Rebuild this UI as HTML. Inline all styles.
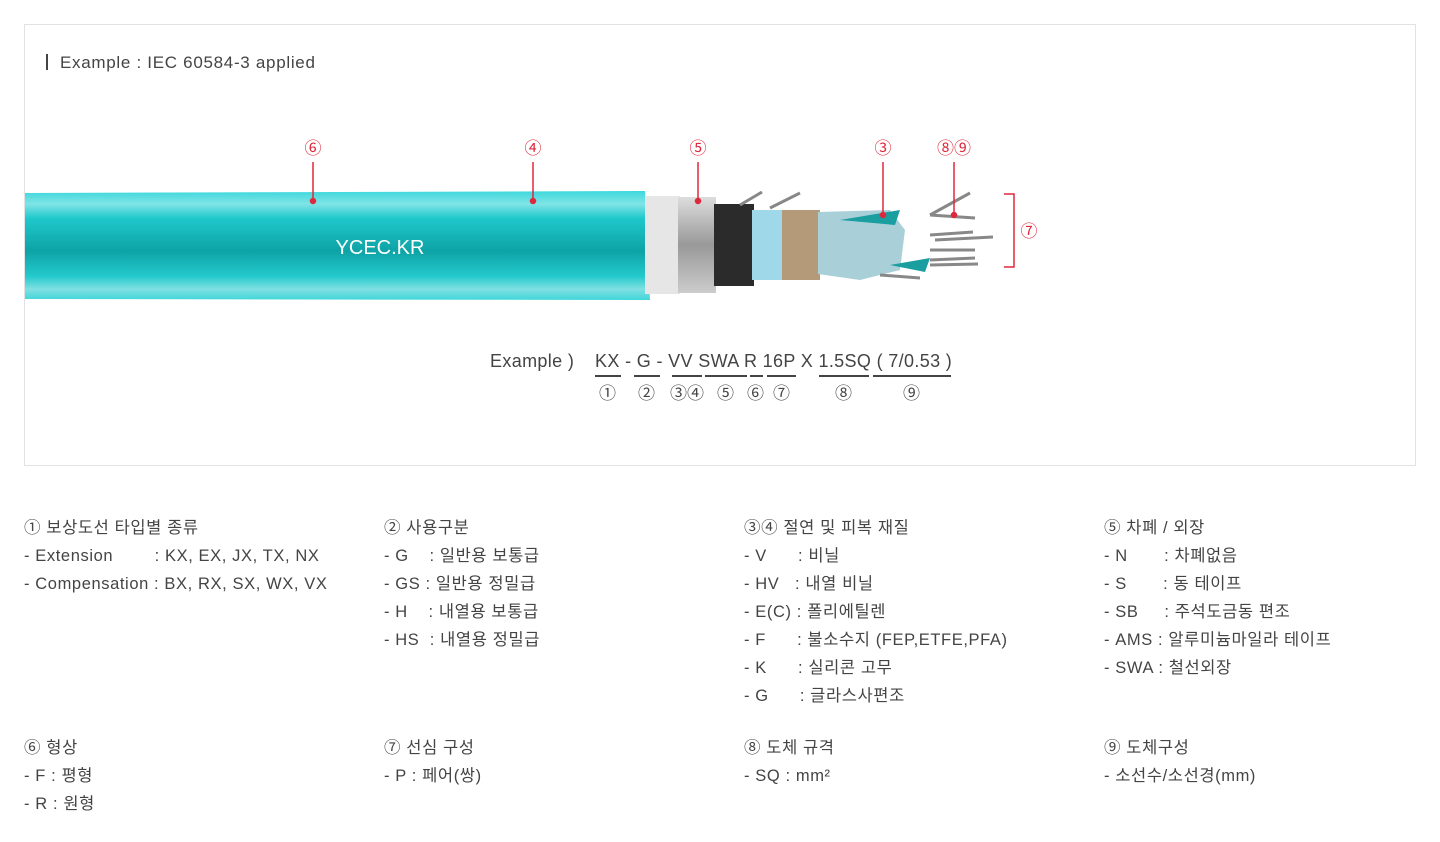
<!DOCTYPE html>
<html><head><meta charset="utf-8"><style>
body{margin:0;width:1440px;height:842px;background:#fff;font-family:"Liberation Sans","Noto Sans CJK KR",sans-serif;color:#444;position:relative;overflow:hidden}
.box{position:absolute;left:24px;top:24px;width:1390px;height:440px;border:1px solid #e2e2e2}
.t{position:absolute;white-space:nowrap}
.ex{font-size:18px;color:#444;letter-spacing:0.35px}
.u{position:absolute;height:2px;background:#444;top:375px}
.c{font-size:17px;font-family:"Noto Sans CJK KR",sans-serif;line-height:20px}
.leg{position:absolute;font-size:16.5px;line-height:28px;color:#444;white-space:pre;letter-spacing:0.6px}
</style></head><body>
<div class="box"></div>
<div class="t" style="left:46px;top:53px;font-size:17px;color:#444;letter-spacing:0.7px"><span style="display:inline-block;width:2px;height:16px;background:#444;vertical-align:-2px;margin-right:12px"></span>Example : IEC 60584-3 applied</div>

<svg style="position:absolute;left:0;top:0" width="1440" height="470">
<defs>
<linearGradient id="tg" x1="0" y1="0" x2="0" y2="1">
<stop offset="0" stop-color="#3dd8dc"/><stop offset="0.12" stop-color="#80e4e6"/><stop offset="0.25" stop-color="#1fc8cb"/><stop offset="0.55" stop-color="#0ea3a6"/><stop offset="0.78" stop-color="#23c9cc"/><stop offset="0.9" stop-color="#80e0e2"/><stop offset="1" stop-color="#40d6da"/>
</linearGradient>
<linearGradient id="sg" x1="0" y1="0" x2="0" y2="1"><stop offset="0" stop-color="#ddd"/><stop offset="0.5" stop-color="#999"/><stop offset="1" stop-color="#ccc"/></linearGradient>
</defs>
<polygon points="25,193 645,191 650,300 25,299" fill="url(#tg)"/>
<rect x="645" y="196" width="35" height="98" fill="#e6e6e6"/>
<rect x="678" y="197" width="38" height="96" fill="url(#sg)"/>
<rect x="714" y="204" width="40" height="82" fill="#2b2b2b"/>
<rect x="752" y="210" width="32" height="70" fill="#9fd8e8"/>
<rect x="782" y="210" width="38" height="70" fill="#b59a7a"/>
<polygon points="818,212 890,210 905,230 900,270 860,280 818,274" fill="#a9cfd8"/>
<path d="M840 220 L900 210 L895 225 Z M890 265 L930 258 L925 272 Z" fill="#1a9ea0"/>
<g stroke="#888" stroke-width="3">
<line x1="740" y1="205" x2="762" y2="192"/><line x1="770" y1="208" x2="800" y2="193"/>
<line x1="930" y1="215" x2="970" y2="193"/><line x1="930" y1="215" x2="975" y2="218"/>
<line x1="930" y1="235" x2="973" y2="232"/><line x1="935" y1="240" x2="993" y2="237"/>
<line x1="930" y1="250" x2="975" y2="250"/><line x1="930" y1="260" x2="975" y2="258"/>
<line x1="930" y1="265" x2="978" y2="264"/><line x1="880" y1="275" x2="920" y2="278"/>
</g>
<g stroke="#e0283c" stroke-width="1.5" fill="#e0283c">
<line x1="313" y1="162" x2="313" y2="201"/><circle cx="313" cy="201" r="2.5"/>
<line x1="533" y1="162" x2="533" y2="201"/><circle cx="533" cy="201" r="2.5"/>
<line x1="698" y1="162" x2="698" y2="201"/><circle cx="698" cy="201" r="2.5"/>
<line x1="883" y1="162" x2="883" y2="215"/><circle cx="883" cy="215" r="2.5"/>
<line x1="954" y1="162" x2="954" y2="215"/><circle cx="954" cy="215" r="2.5"/>
<polyline points="1004,194 1014,194 1014,267 1004,267" fill="none"/>
</g>
<text x="380" y="254" font-family="Liberation Sans" font-size="20" fill="#fff" text-anchor="middle">YCEC.KR</text>
<g font-family="Noto Sans CJK KR,DejaVu Sans" font-size="17" fill="#e0283c" text-anchor="middle">
<text x="313" y="154">⑥</text><text x="533" y="154">④</text><text x="698" y="154">⑤</text><text x="883" y="154">③</text><text x="954" y="154">⑧⑨</text><text x="1029" y="237">⑦</text>
</g>
</svg>

<div class="t ex" style="left:490px;top:351px">Example )</div>
<div class="t ex" style="left:595px;top:351px">KX - G - VV SWA R 16P X 1.5SQ ( 7/0.53 )</div>
<div class="u" style="left:595px;width:26px"></div>
<div class="u" style="left:634px;width:26px"></div>
<div class="u" style="left:672px;width:30px"></div>
<div class="u" style="left:705px;width:42px"></div>
<div class="u" style="left:750px;width:13px"></div>
<div class="u" style="left:767px;width:29px"></div>
<div class="u" style="left:819px;width:50px"></div>
<div class="u" style="left:873px;width:78px"></div>
<div class="t c" style="left:599px;top:382px">①</div>
<div class="t c" style="left:638px;top:382px">②</div>
<div class="t c" style="left:670px;top:382px">③④</div>
<div class="t c" style="left:717px;top:382px">⑤</div>
<div class="t c" style="left:747px;top:382px">⑥</div>
<div class="t c" style="left:773px;top:382px">⑦</div>
<div class="t c" style="left:835px;top:382px">⑧</div>
<div class="t c" style="left:903px;top:382px">⑨</div>

<div class="leg" style="left:24px;top:514px">① 보상도선 타입별 종류
- Extension        : KX, EX, JX, TX, NX
- Compensation : BX, RX, SX, WX, VX</div>
<div class="leg" style="left:384px;top:514px">② 사용구분
- G    : 일반용 보통급
- GS : 일반용 정밀급
- H    : 내열용 보통급
- HS  : 내열용 정밀급</div>
<div class="leg" style="left:744px;top:514px">③④ 절연 및 피복 재질
- V      : 비닐
- HV   : 내열 비닐
- E(C) : 폴리에틸렌
- F      : 불소수지 (FEP,ETFE,PFA)
- K      : 실리콘 고무
- G      : 글라스사편조</div>
<div class="leg" style="left:1104px;top:514px">⑤ 차폐 / 외장
- N       : 차폐없음
- S       : 동 테이프
- SB     : 주석도금동 편조
- AMS : 알루미늄마일라 테이프
- SWA : 철선외장</div>
<div class="leg" style="left:24px;top:734px">⑥ 형상
- F : 평형
- R : 원형</div>
<div class="leg" style="left:384px;top:734px">⑦ 선심 구성
- P : 페어(쌍)</div>
<div class="leg" style="left:744px;top:734px">⑧ 도체 규격
- SQ : mm²</div>
<div class="leg" style="left:1104px;top:734px">⑨ 도체구성
- 소선수/소선경(mm)</div>
</body></html>
